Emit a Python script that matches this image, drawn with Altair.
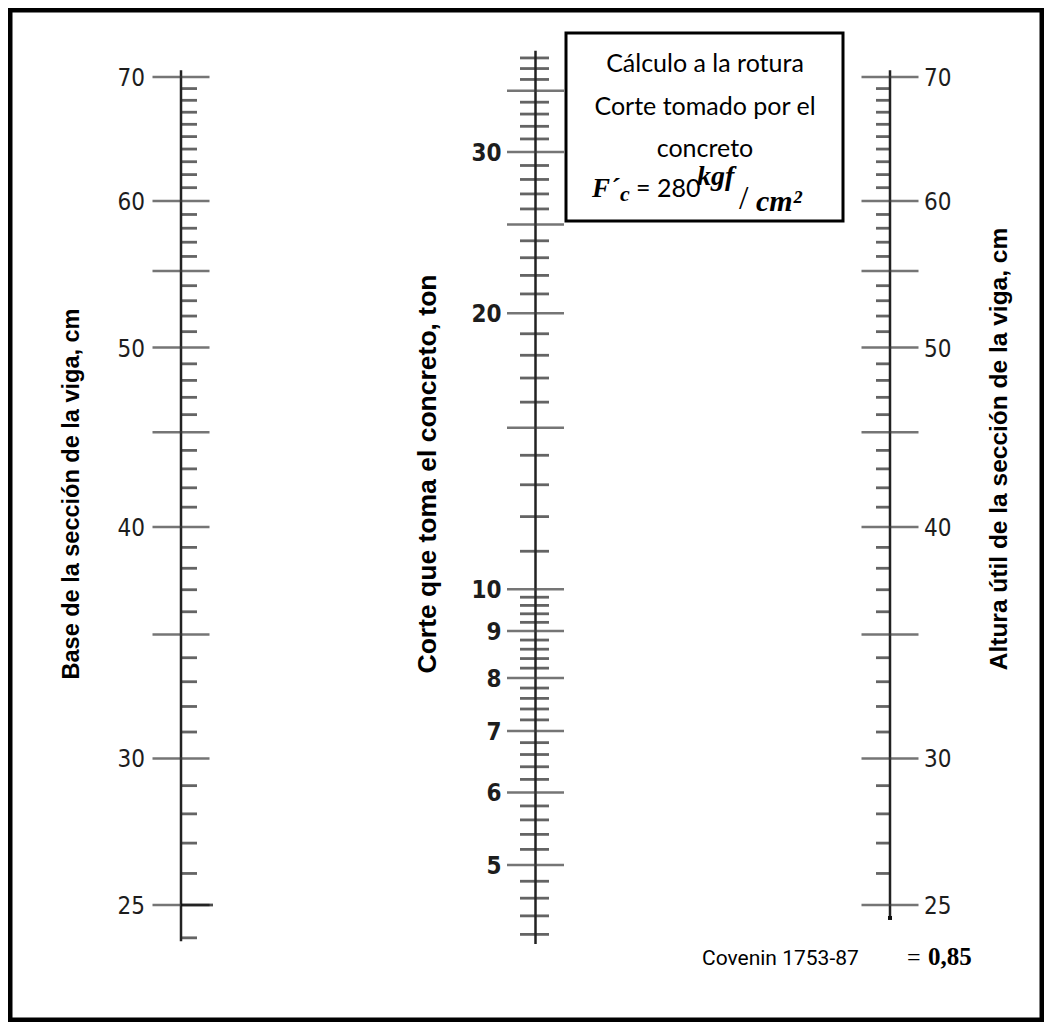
import altair as alt
import pandas as pd

# ---------------- data ----------------
columns = ["Base", "Corte", "Altura"]

base_major = [25, 30, 35, 40, 45, 50, 55, 60, 70]
base_minor = [24, 26, 27, 28, 29, 31, 32, 33, 34, 36, 37, 38, 39, 41, 42, 43, 44,
              46, 47, 48, 49, 51, 52, 53, 54, 56, 57, 58, 59, 61, 62, 63, 64, 65,
              66, 67, 68, 69]
base_labels = [25, 30, 40, 50, 60, 70]
base_extent = [23.9, 70.6]

altura_major = [25, 30, 35, 40, 45, 50, 55, 60, 70]
altura_minor = [26, 27, 28, 29, 31, 32, 33, 34, 36, 37, 38, 39, 41, 42, 43, 44,
                46, 47, 48, 49, 51, 52, 53, 54, 56, 57, 58, 59, 61, 62, 63, 64, 65,
                66, 67, 68, 69]
altura_labels = [25, 30, 40, 50, 60, 70]
altura_extent = [24.6, 70.6]

corte_major = [5, 6, 7, 8, 9, 10, 15, 20, 25, 30, 35]
corte_minor = [4.2, 4.4, 4.6, 4.8, 5.2, 5.4, 5.6, 5.8, 6.2, 6.4, 6.6, 6.8,
               7.2, 7.4, 7.6, 7.8, 8.2, 8.4, 8.6, 8.8, 9.2, 9.4, 9.6, 9.8,
               11, 12, 13, 14, 16, 17, 18, 19, 21, 22, 23, 24, 26, 27, 28, 29,
               31, 32, 33, 34, 36, 37, 38]
corte_labels = [5, 6, 7, 8, 9, 10, 20, 30]
corte_extent = [4.1, 38.7]

title_base = "Base de la sección de la viga, cm"
title_corte = "Corte que toma el concreto, ton"
title_altura = "Altura útil de la sección de la viga, cm"
box_lines = ["Cálculo a la rotura", "Corte tomado por el", "concreto"]
footer_text = "Covenin 1753-87"
footer_value = "0,85"

# ---------------- scales ----------------
x_scale = alt.Scale(type="point", domain=columns, range=[173, 882], padding=0)
bd_scale = alt.Scale(type="log", domain=[25, 70], range=[897, 69])
v_scale = alt.Scale(type="log", domain=[5, 30], range=[857, 144])

INK = "#222222"
NUM_FONT = "Liberation Sans Narrow, DejaVu Sans Condensed, Roboto Condensed, Open Sans Condensed, Roboto, sans-serif"


def df(col, vals):
    return pd.DataFrame({"col": [col] * len(vals), "v": vals})


def X():
    return alt.X("col:N", scale=x_scale, axis=None)


def Y(scale):
    return alt.Y("v:Q", scale=scale, axis=None)


layers = []

# axis lines
def axis_line(col, ext, scale):
    d = pd.DataFrame({"col": [col], "lo": [ext[0]], "hi": [ext[1]]})
    return alt.Chart(d).mark_rule(color=INK, strokeWidth=2.5).encode(
        x=X(), y=alt.Y("lo:Q", scale=scale, axis=None), y2="hi:Q")

layers.append(axis_line("Base", base_extent, bd_scale))
layers.append(axis_line("Altura", altura_extent, bd_scale))
layers.append(axis_line("Corte", corte_extent, v_scale))

# major ticks
for col, vals, sc in [("Base", base_major, bd_scale), ("Altura", altura_major, bd_scale),
                      ("Corte", corte_major, v_scale)]:
    layers.append(alt.Chart(df(col, vals)).mark_tick(
        orient="horizontal", size=57, thickness=2.5, color="#3a3a3a").encode(x=X(), y=Y(sc)))

# minor ticks
for col, vals, sc, size, off in [("Base", base_minor, bd_scale, 16, 8),
                                 ("Altura", altura_minor, bd_scale, 14, -7),
                                 ("Corte", corte_minor, v_scale, 29, -1)]:
    layers.append(alt.Chart(df(col, vals)).mark_tick(
        orient="horizontal", size=size, thickness=2.8, color=INK, xOffset=off).encode(x=X(), y=Y(sc)))

# heavier right half of the 25 tick on the base scale
layers.append(alt.Chart(df("Base", [25])).mark_tick(
    orient="horizontal", size=32, thickness=2.8, color="#000000", xOffset=16).encode(x=X(), y=Y(bd_scale)))

# end dot on right axis
layers.append(alt.Chart(df("Altura", [altura_extent[0]])).mark_square(
    size=16, color="#111111", opacity=1).encode(x=X(), y=Y(bd_scale)))

# labels
for col, vals, sc, align, dx, weight in [("Base", base_labels, bd_scale, "right", -36, "normal"),
                                         ("Corte", corte_labels, v_scale, "right", -34, "bold"),
                                         ("Altura", altura_labels, bd_scale, "left", 34, "normal")]:
    layers.append(alt.Chart(df(col, vals)).mark_text(
        align=align, baseline="middle", dx=dx, dy=2, font=NUM_FONT, fontSize=24,
        fontWeight=weight, color="#1d1d1d").encode(x=X(), y=Y(sc), text="v:Q"))


def label(text, x, y, **kw):
    d = pd.DataFrame({"t": [text]})
    return alt.Chart(d).mark_text(**kw).encode(
        x=alt.value(x), y=alt.value(y), text="t:N")

# axis titles
for t, x, y, fs in [(title_base, 64, 486, 23.5), (title_corte, 420, 466, 26.5),
                    (title_altura, 992, 441, 24.5)]:
    layers.append(label(t, x, y, angle=270, align="center", baseline="middle",
                        font="Liberation Sans", fontWeight="bold", fontSize=fs, color="black"))

# title box
box = pd.DataFrame({"b": [1]})
layers.append(alt.Chart(box).mark_rect(fill="white", stroke="black", strokeWidth=3).encode(
    x=alt.value(558), x2=alt.value(835), y=alt.value(25), y2=alt.value(213)))
for t, y in zip(box_lines, [64, 107, 149]):
    layers.append(label(t, 697, y, align="center", baseline="alphabetic",
                        font="Lato", fontSize=25, color="black"))
# formula line
layers.append(label("F´", 584, 189, align="left", baseline="alphabetic", font="Liberation Serif",
                    fontWeight="bold", fontStyle="italic", fontSize=27, color="black"))
layers.append(label("c", 612, 193, align="left", baseline="alphabetic", font="Liberation Serif",
                    fontWeight="bold", fontStyle="italic", fontSize=22, color="black"))
layers.append(label("= 280", 628, 189, align="left", baseline="alphabetic", font="Lato",
                    fontSize=25, color="black"))
layers.append(label("kgf", 689, 177, align="left", baseline="alphabetic", font="Liberation Serif",
                    fontWeight="bold", fontStyle="italic", fontSize=28, color="black"))
layers.append(label("/", 731, 201, align="left", baseline="alphabetic", font="Liberation Serif",
                    fontSize=34, color="black"))
layers.append(label("cm²", 748, 203, align="left", baseline="alphabetic", font="Liberation Serif",
                    fontWeight="bold", fontStyle="italic", fontSize=30, color="black"))

# footer
layers.append(label(footer_text, 694, 957, align="left", baseline="alphabetic", font="Roboto",
                    fontSize=21, color="black"))
layers.append(label("=", 899, 957, align="left", baseline="alphabetic", font="Liberation Serif",
                    fontSize=24, color="black"))
layers.append(label(footer_value, 920, 957, align="left", baseline="alphabetic",
                    font="Liberation Serif", fontWeight="bold", fontSize=25, color="black"))

# outer frame
layers.append(alt.Chart(box).mark_rect(filled=False, stroke="black", strokeWidth=5).encode(
    x=alt.value(2), x2=alt.value(1034), y=alt.value(2), y2=alt.value(1012)))

chart = alt.layer(*layers).resolve_scale(y="independent").properties(
    width=1036, height=1014, padding=0,
    autosize=alt.AutoSizeParams(type="none"),
    background="white",
).configure_view(stroke=None)

chart.save("out.html", embed_options={"renderer": "svg", "actions": False})
